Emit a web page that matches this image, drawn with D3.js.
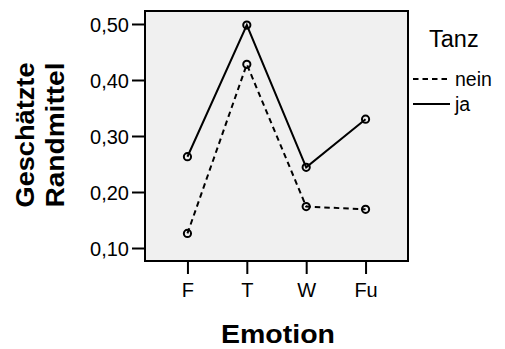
<!DOCTYPE html>
<html>
<head>
<meta charset="utf-8">
<script src="https://cdn.jsdelivr.net/npm/d3@7"></script>
<style>
  html, body { margin: 0; padding: 0; background: #fff; }
  svg { display: block; font-family: "Liberation Sans", Arial, Helvetica, sans-serif; }
</style>
</head>
<body>
<svg id="chart" width="505" height="349"></svg>
<script>
const categories = ["F", "T", "W", "Fu"];
const seriesNames = ["nein", "ja"];
const neinValues = [0.126, 0.428, 0.174, 0.169];
const jaValues = [0.263, 0.498, 0.244, 0.330];
const yTicks = [0.10, 0.20, 0.30, 0.40, 0.50];
const legendTitle = "Tanz";
const xTitle = "Emotion";
const yTitleLines = ["Geschätzte", "Randmittel"];

const series = [
  { name: seriesNames[0], values: neinValues, dash: "5.5,4" },
  { name: seriesNames[1], values: jaValues, dash: null }
];

const svg = d3.select("#chart");
const plot = { left: 145, right: 408, top: 11, bottom: 261 };

const x = d3.scalePoint().domain(categories).range([plot.left, plot.right]).padding(0.715);
const y = d3.scaleLinear().domain([0.0768, 0.5232]).range([plot.bottom, plot.top]);

// plot background
svg.append("rect")
  .attr("x", plot.left).attr("y", plot.top)
  .attr("width", plot.right - plot.left).attr("height", plot.bottom - plot.top)
  .attr("fill", "#f0f0f0");

const fmt = v => d3.format(".2f")(v).replace(".", ",");

// y axis
const yAxis = d3.axisLeft(y).tickValues(yTicks).tickFormat(fmt).tickSize(13).tickSizeOuter(0);
const gy = svg.append("g").attr("transform", `translate(${plot.left},0)`).call(yAxis);
gy.select(".domain").remove();
gy.selectAll(".tick line").attr("stroke", "#000").attr("stroke-width", 2);
gy.selectAll(".tick text").attr("font-size", 20).attr("fill", "#000").attr("x", -16).attr("dy", "0.36em");

// x axis
const xAxis = d3.axisBottom(x).tickSize(13).tickSizeOuter(0);
const gx = svg.append("g").attr("transform", `translate(0,${plot.bottom})`).call(xAxis);
gx.select(".domain").remove();
gx.selectAll(".tick line").attr("stroke", "#000").attr("stroke-width", 2);
gx.selectAll(".tick text").attr("font-size", 20).attr("fill", "#000").attr("y", 21.5).attr("dy", "0.71em");

// frame
svg.append("rect")
  .attr("x", plot.left).attr("y", plot.top)
  .attr("width", plot.right - plot.left).attr("height", plot.bottom - plot.top)
  .attr("fill", "none").attr("stroke", "#000").attr("stroke-width", 2);

// lines
const line = d3.line().x((d, i) => x(categories[i])).y(d => y(d));
series.forEach(s => {
  svg.append("path")
    .attr("d", line(s.values))
    .attr("fill", "none").attr("stroke", "#000").attr("stroke-width", 2)
    .attr("stroke-dasharray", s.dash);
  svg.selectAll(null).data(s.values).enter().append("circle")
    .attr("cx", (d, i) => x(categories[i])).attr("cy", d => y(d))
    .attr("r", 3.6).attr("fill", "none").attr("stroke", "#000").attr("stroke-width", 2);
});

// legend
svg.append("text").attr("x", 429).attr("y", 47).attr("font-size", 23.5).attr("fill", "#000").text(legendTitle);
series.forEach((s, i) => {
  const ly = 79 + i * 25;
  svg.append("line").attr("x1", 413).attr("x2", 450).attr("y1", ly).attr("y2", ly)
    .attr("stroke", "#000").attr("stroke-width", 2).attr("stroke-dasharray", s.dash);
  svg.append("text").attr("x", 455).attr("y", ly + 7).attr("font-size", 19.5).attr("fill", "#000").text(s.name);
});

// axis titles
svg.append("text").attr("x", (plot.left + plot.right) / 2 + 1.5).attr("y", 343)
  .attr("text-anchor", "middle").attr("font-size", 26).attr("font-weight", "bold")
  .attr("textLength", 114).attr("lengthAdjust", "spacingAndGlyphs")
  .attr("fill", "#000").text(xTitle);

const yt = svg.append("g").attr("transform", "translate(0,135) rotate(-90)");
yTitleLines.forEach((t, i) => {
  yt.append("text").attr("x", 0).attr("y", 34 + i * 30)
    .attr("text-anchor", "middle").attr("font-size", 25).attr("font-weight", "bold")
    .attr("textLength", 145).attr("lengthAdjust", "spacingAndGlyphs")
    .attr("fill", "#000").text(t);
});
</script>
</body>
</html>
